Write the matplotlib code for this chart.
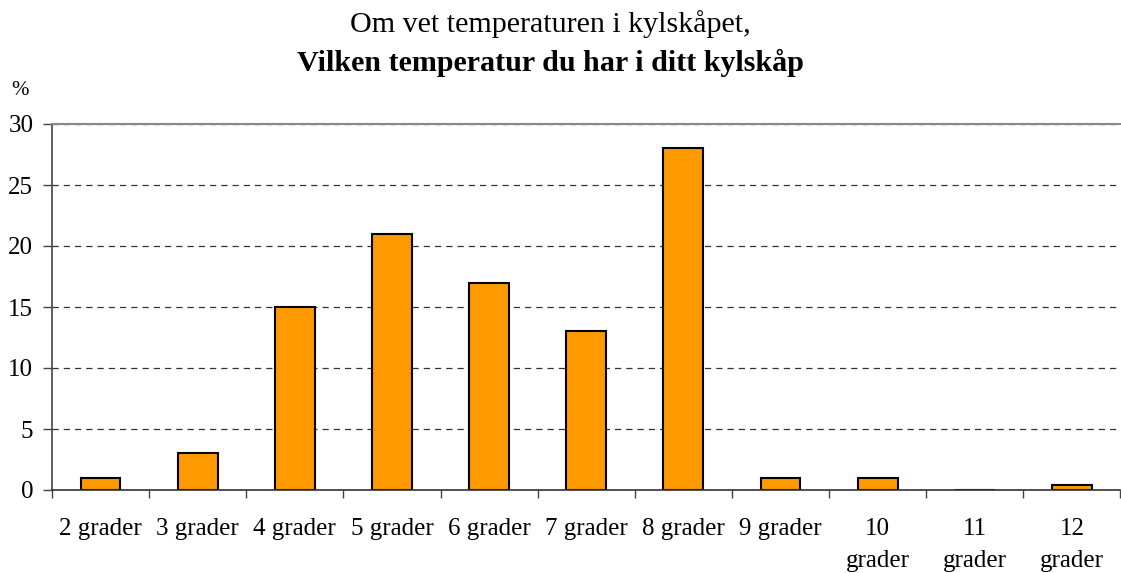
import numpy as np
import matplotlib.pyplot as plt

# data
categories = ['2 grader', '3 grader', '4 grader', '5 grader', '6 grader', '7 grader',
              '8 grader', '9 grader', '10\ngrader', '11\ngrader', '12\ngrader']
values = [1, 3, 15, 21, 17, 13, 28, 1, 1, 0, 0.4]

plt.rcParams['font.family'] = ['Liberation Serif', 'DejaVu Serif']

fig = plt.figure(figsize=(11.21, 5.73), dpi=100)
ax = fig.add_axes([52/1121, 1-490/573, 1-52/1121 - 0.0005, (490-124)/573])

x = np.arange(len(categories))
ax.bar(x, values, width=0.41, color='#FF9900', edgecolor='black', linewidth=1.5, zorder=3)

ax.set_xlim(-0.5, len(categories) - 0.5)
ax.set_ylim(0, 30)
ax.set_yticks(range(0, 31, 5))
ax.set_xticks(np.arange(len(categories) + 1) - 0.5)
ax.set_xticklabels([])
ax.set_xticks(x, minor=True)
ax.set_xticklabels(categories, minor=True, fontsize=18, linespacing=1.6, va='top')
ax.tick_params(axis='x', which='minor', length=0, pad=20)
ax.tick_params(axis='x', which='major', length=6, width=1, color='#444444', direction='out')
ax.tick_params(axis='y', length=6.5, width=1, color='#444444', labelsize=18, pad=7)

ax.yaxis.grid(True, linestyle=(0, (5, 4)), color='#333333', linewidth=0.9, zorder=0)
ax.spines['top'].set_color('#888888')
ax.spines['top'].set_linewidth(1.5)
ax.spines['right'].set_visible(False)
ax.spines['left'].set_color('#444444')
ax.spines['bottom'].set_color('#333333')
ax.spines['left'].set_linewidth(1.2)
ax.spines['bottom'].set_linewidth(1.2)
for s in ax.spines.values():
    s.set_zorder(4)

fig.text(20/1121, 1-90/573, '%', fontsize=15, ha='center', va='center')
fig.text(550/1121, 1-32/573, 'Om vet temperaturen i kylskåpet,', fontsize=21.6,
         ha='center', va='baseline')
fig.text(550/1121, 1-71/573, 'Vilken temperatur du har i ditt kylskåp', fontsize=21.6,
         fontweight='bold', ha='center', va='baseline')

fig.savefig('out.png', dpi=100)
